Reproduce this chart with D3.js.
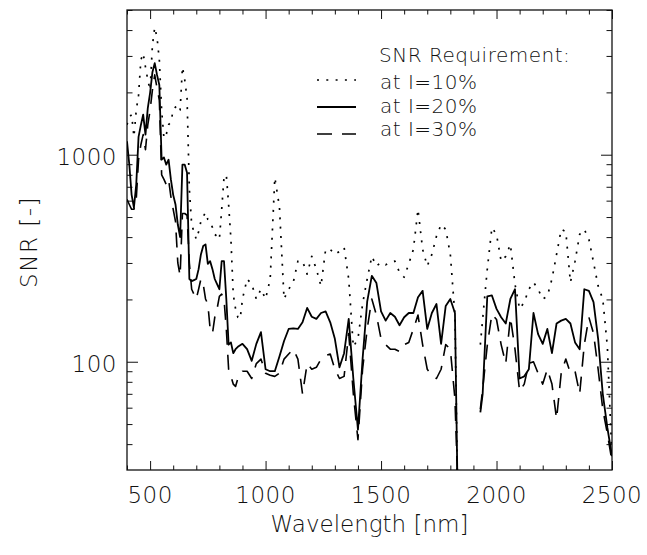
<!DOCTYPE html>
<html>
<head>
<meta charset="utf-8">
<script src="https://cdn.jsdelivr.net/npm/d3@7.9.0/dist/d3.min.js"></script>
<style>
  body { margin: 0; background: #fff; }
  text { font-family: "DejaVu Sans", sans-serif; font-weight: 200; fill: #111; }
</style>
</head>
<body>
<svg id="chart" width="647" height="555"></svg>
<script>
// wavelength grid [nm]
const wavelength = [
  400, 410, 420, 430, 440, 450, 460, 470, 480, 490,
  500, 510, 520, 530, 540, 550, 560, 570, 580, 590,
  600, 610, 620, 630, 640, 650, 660, 670, 680, 690,
  700, 710, 720, 730, 740, 750, 760, 770, 780, 790,
  800, 810, 820, 830, 840, 850, 860, 870, 880, 890,
  900, 920, 940, 960, 980,
  1000, 1020, 1040, 1060, 1080, 1100, 1120, 1140, 1160, 1180,
  1200, 1220, 1240, 1260, 1280, 1300, 1320, 1340, 1360, 1380,
  1400, 1420, 1440, 1460, 1480, 1500, 1520, 1540, 1560, 1580,
  1600, 1620, 1640, 1660, 1680, 1700, 1720, 1740, 1760, 1780,
  1800, 1820, 1830, 1880, 1930, 1940, 1960, 1980,
  2000, 2020, 2040, 2060, 2080, 2100, 2120, 2140, 2160, 2180,
  2200, 2220, 2240, 2260, 2280, 2300, 2320, 2340, 2360, 2380,
  2400, 2420, 2440, 2460, 2480, 2500
];

// SNR requirement at I=10% (dotted)
const snr10 = [
  1395, 1520, 1560, 1220, 1640, 1940, 2865, 3090, 2650, 2300,
  2050, 3370, 4120, 3690, 2865, 1640, 1200, 1250, 1395, 1440,
  1640, 1700, 1610, 1640, 2650, 2300, 1880, 680, 460, 425,
  390, 425, 476, 503, 526, 487, 476, 445, 412, 404,
  390, 545, 775, 800, 575, 390, 212, 180, 164, 161,
  201, 251, 237, 201, 224,
  201, 251, 775, 560, 201, 224, 242, 306, 306, 265,
  323, 280, 232, 349, 349, 330, 341, 357, 251, 118,
  129, 190, 251, 323, 290, 302, 294, 302, 306, 270,
  256, 297, 349, 545, 349, 290, 330, 404, 460, 436,
  330, 167, 30, null, 121, 161, 280, 445,
  412, 306, 323, 369, 237, 180, 194, 224, 242, 224,
  201, 207, 251, 330, 436, 425, 242, 306, 412, 436,
  390, 302, 232, 201, 118, 34
];

// SNR requirement at I=20% (solid)
const snr20 = [
  1160, 895, 640, 556, 717, 1220, 1390, 1560, 1250, 1680,
  1990, 2500, 2770, 2430, 2170, 946, 970, 895, 946, 760,
  640, 575, 460, 400, 895, 895, 818, 251, 245, 248,
  251, 280, 330, 362, 369, 297, 306, 280, 251, 237,
  224, 306, 306, 201, 121, 124, 110, 115, 118, 120,
  122, 115, 101, 122, 139,
  92, 90, 90, 106, 126, 144, 145, 144, 155, 182,
  165, 161, 172, 175, 155, 129, 94, 110, 161, 83,
  47, 103, 195, 260, 240, 175, 158, 172, 165, 150,
  164, 172, 172, 205, 220, 144, 172, 190, 122, 186,
  201, 172, 30, null, 57, 70, 207, 209,
  180, 164, 153, 201, 224, 83, 85, 92, 172, 136,
  122, 144, 110, 153, 158, 161, 153, 124, 115, 224,
  220, 194, 129, 70, 48, 35
];

// SNR requirement at I=30% (dashed)
const snr30 = [
  608, 575, 545, 545, 608, 946, 1117, 1250, 1057, 1395,
  1640, 2050, 2430, 2100, 1836, 800, 760, 717, 760, 628,
  545, 476, 300, 260, 520, 520, 510, 300, 224, 212,
  201, 224, 251, 237, 201, 190, 144, 137, 164, 180,
  207, 212, 201, 144, 92, 85, 78, 76, 83, 86,
  90, 90, 83, 98, 103,
  88, 86, 85, 88, 103, 109, 115, 103, 70, 98,
  92, 94, 103, 107, 109, 92, 83, 85, 137, 70,
  42, 92, 144, 201, 168, 129, 121, 115, 115, 112,
  121, 124, 144, 168, 121, 92, 86, 83, 92, 121,
  115, 66, 30, null, 59, 74, 120, 170,
  160, 121, 98, 164, 115, 72, 78, 98, 100, 88,
  78, 92, 78, 53, 88, 103, 88, 90, 70, 121,
  164, 137, 92, 59, 45, 33
];

const xTicks = [500, 1000, 1500, 2000, 2500];
const yTicks = [100, 1000];
const legendTitle = "SNR Requirement:";
const legendLabels = ["at I=10%", "at I=20%", "at I=30%"];

const svg = d3.select("#chart");
const plotLeft = 127, plotRight = 612, plotTop = 10, plotBottom = 470;

const x = d3.scaleLinear().domain([400, 2500]).range([plotLeft, plotRight]);
const y = d3.scaleLog().domain([30, 5000]).range([plotBottom, plotTop]);

const xMinor = d3.range(400, 2501, 100).filter(d => !xTicks.includes(d));
const yMinor = y.ticks(10).filter(d => !yTicks.includes(d) && d > 30 && d <= 5000);

svg.append("defs").append("clipPath").attr("id", "plot-clip")
  .append("rect")
  .attr("x", plotLeft).attr("y", plotTop)
  .attr("width", plotRight - plotLeft).attr("height", plotBottom - plotTop);

// ticks drawn inward on all four sides
function tickAxis(axis, tf) {
  const g = svg.append("g").attr("transform", tf).call(axis);
  g.select(".domain").remove();
  g.selectAll("line").attr("stroke", "#111").attr("stroke-width", 1);
  g.selectAll("text").remove();
  return g;
}

tickAxis(d3.axisBottom(x).tickValues(xTicks).tickSize(-9), `translate(0,${plotBottom})`);
tickAxis(d3.axisBottom(x).tickValues(xMinor).tickSize(-4.5), `translate(0,${plotBottom})`);
tickAxis(d3.axisTop(x).tickValues(xTicks).tickSize(-9), `translate(0,${plotTop})`);
tickAxis(d3.axisTop(x).tickValues(xMinor).tickSize(-4.5), `translate(0,${plotTop})`);
tickAxis(d3.axisLeft(y).tickValues(yTicks).tickSize(-11), `translate(${plotLeft},0)`);
tickAxis(d3.axisLeft(y).tickValues(yMinor).tickSize(-5.5), `translate(${plotLeft},0)`);
tickAxis(d3.axisRight(y).tickValues(yTicks).tickSize(-11), `translate(${plotRight},0)`);
tickAxis(d3.axisRight(y).tickValues(yMinor).tickSize(-5.5), `translate(${plotRight},0)`);

// frame
svg.append("rect")
  .attr("x", plotLeft).attr("y", plotTop)
  .attr("width", plotRight - plotLeft).attr("height", plotBottom - plotTop)
  .attr("fill", "none").attr("stroke", "#111").attr("stroke-width", 1.3);

// tick labels
svg.append("g").selectAll("text")
  .data(xTicks)
  .enter()
  .append("text")
  .attr("x", d => x(d))
  .attr("y", 503)
  .attr("text-anchor", "middle")
  .style("font-size", "23px")
  .style("letter-spacing", "0.5px")
  .text(d => d);

svg.append("g").selectAll("text")
  .data(yTicks)
  .enter()
  .append("text")
  .attr("x", 117)
  .attr("y", d => y(d) + 10)
  .attr("text-anchor", "end")
  .style("font-size", "23px")
  .style("letter-spacing", "0.5px")
  .text(d => d);

// axis titles
svg.append("text")
  .attr("x", (plotLeft + plotRight) / 2)
  .attr("y", 532)
  .attr("text-anchor", "middle")
  .style("font-size", "23px")
  .text("Wavelength [nm]");

svg.append("text")
  .attr("transform", `translate(37,${(plotTop + plotBottom) / 2 + 2}) rotate(-90)`)
  .attr("text-anchor", "middle")
  .style("font-size", "23px")
  .style("letter-spacing", "1.5px")
  .text("SNR [-]");

// series
const series = [
  { values: snr10, dash: "2,7.3", width: 1.7 },
  { values: snr20, dash: null, width: 1.8 },
  { values: snr30, dash: "15,10", width: 1.6 }
];

const line = d3.line()
  .defined(d => d[1] != null)
  .x(d => x(d[0]))
  .y(d => y(d[1]));

const plot = svg.append("g").attr("clip-path", "url(#plot-clip)");

plot.selectAll("path")
  .data(series)
  .enter()
  .append("path")
  .attr("d", s => line(wavelength.map((w, i) => [w, s.values[i]])))
  .attr("fill", "none")
  .attr("stroke", "#000")
  .attr("stroke-width", s => s.width)
  .attr("stroke-dasharray", s => s.dash)
  .attr("stroke-linejoin", "round");

// legend
const legend = svg.append("g");
legend.append("text")
  .attr("x", 379).attr("y", 62)
  .style("font-size", "20px")
  .style("letter-spacing", "0.5px")
  .text(legendTitle);

const legendY = [80, 107, 134];
const textY = [82, 106, 129];

legend.selectAll("line")
  .data(series)
  .enter()
  .append("line")
  .attr("x1", 317).attr("x2", 356)
  .attr("y1", (d, i) => legendY[i]).attr("y2", (d, i) => legendY[i])
  .attr("stroke", "#000")
  .attr("stroke-width", d => d.width)
  .attr("stroke-dasharray", d => d.dash);

legend.selectAll(".lab")
  .data(legendLabels)
  .enter()
  .append("text")
  .attr("class", "lab")
  .attr("x", 380)
  .attr("y", (d, i) => textY[i] + 7)
  .style("font-size", "20px")
  .style("letter-spacing", "0.5px")
  .text(d => d);
</script>
</body>
</html>
